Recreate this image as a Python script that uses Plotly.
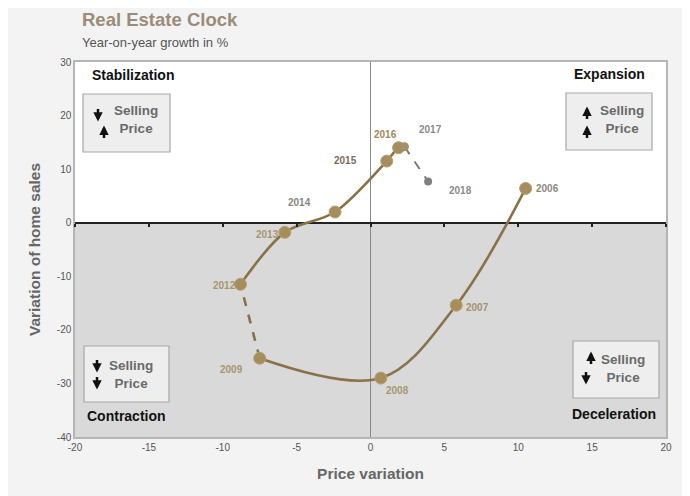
import plotly.graph_objects as go

years = [2006, 2007, 2008, 2009, 2012, 2013, 2014, 2015, 2016, 2017, 2018]
price_var = [10.5, 5.8, 0.7, -7.5, -8.8, -5.8, -2.4, 1.1, 1.9, 2.3, 3.9]
sales_var = [6.4, -15.4, -29.0, -25.3, -11.5, -1.8, 2.0, 11.5, 14.0, 14.2, 7.7]

x_ticks = [-20, -15, -10, -5, 0, 5, 10, 15, 20]
y_ticks = [-40, -30, -20, -10, 0, 10, 20, 30]

GOLD = "#a68d5c"
LINE = "#8a7148"
FONT = "Liberation Sans, Arial, sans-serif"

W, H = 690, 496
OFF = 8  # page body margin
L, R, T, B = 75, 666, 62, 437  # plot area in screenshot pixels


def px(x):
    return (x - L) / (R - L)


def py(y):
    return (B - y) / (B - T)


def idx(y):
    return years.index(y)


def seg(a, b):
    i, j = idx(a), idx(b)
    return price_var[i:j + 1], sales_var[i:j + 1]


def ann(x, y, text, font, xanchor="center", yanchor="middle", **kw):
    return dict(x=px(x), y=py(y), xref="paper", yref="paper", text=text, showarrow=False,
                xanchor=xanchor, yanchor=yanchor, font=font, **kw)


def arrow(x, y, up, length=13):
    hy = y - length / 2 if up else y + length / 2
    return dict(x=px(x), y=py(hy), xref="paper", yref="paper", text="", showarrow=True,
                ax=0, ay=(length if up else -length), axref="pixel", ayref="pixel", borderpad=0,
                arrowhead=2, arrowsize=0.75, arrowwidth=2.5, arrowcolor="#111", standoff=0)


fig = go.Figure()

sx, sy = seg(2006, 2009)
fig.add_trace(go.Scatter(x=sx, y=sy, mode="lines", line=dict(color=LINE, width=2.6, shape="spline", smoothing=1.0),
                         hoverinfo="skip", showlegend=False))
sx, sy = seg(2009, 2012)
fig.add_trace(go.Scatter(x=sx, y=sy, mode="lines", line=dict(color=LINE, width=2.6, dash="dash"),
                         hoverinfo="skip", showlegend=False))
sx, sy = seg(2012, 2017)
fig.add_trace(go.Scatter(x=sx, y=sy, mode="lines", line=dict(color=LINE, width=2.6, shape="spline", smoothing=0.9),
                         hoverinfo="skip", showlegend=False))
sx, sy = seg(2017, 2018)
fig.add_trace(go.Scatter(x=sx, y=sy, mode="lines", line=dict(color="#7a7a7a", width=2, dash="dash"),
                         hoverinfo="skip", showlegend=False))

gold_idx = [i for i, yv in enumerate(years) if yv <= 2016]
fig.add_trace(go.Scatter(x=[price_var[i] for i in gold_idx], y=[sales_var[i] for i in gold_idx], mode="markers",
                         marker=dict(color=GOLD, size=12, line=dict(color="#b79f70", width=1)),
                         showlegend=False))
fig.add_trace(go.Scatter(x=[price_var[idx(2017)]], y=[sales_var[idx(2017)]], mode="markers",
                         marker=dict(color="#a38f6a", size=9), showlegend=False))
fig.add_trace(go.Scatter(x=[price_var[idx(2018)]], y=[sales_var[idx(2018)]], mode="markers",
                         marker=dict(color="#808080", size=8), showlegend=False))

label_style = {
    2006: (22, 0, "#8f877b"),
    2007: (21, -2, "#a49270"),
    2008: (17, -12, "#a89670"),
    2009: (-28, -11, "#a89670"),
    2012: (-16, -1, "#a89670"),
    2013: (-17, -2, "#a89670"),
    2014: (-36, 10, "#8c8680"),
    2015: (-41, 1, "#7d6c5c"),
    2016: (-13, 13, "#a08858"),
    2017: (26, 17, "#8a8a8a"),
    2018: (32, -9, "#8a8a8a"),
}
annotations = []
for i, yr in enumerate(years):
    dx, dy, col = label_style[yr]
    annotations.append(dict(x=price_var[i], y=sales_var[i], xref="x", yref="y", text=str(yr), showarrow=False,
                            xanchor="center", yanchor="middle",
                            xshift=dx, yshift=dy, font=dict(family=FONT, size=10, color=col, weight="bold")))

qfont = dict(family=FONT, size=14, color="#111", weight="bold")
for text, xp, ypix in [("Stabilization", 133, 75), ("Expansion", 609, 74),
                       ("Contraction", 126, 416), ("Deceleration", 614, 414)]:
    annotations.append(ann(xp, ypix, text, qfont))

shapes = [
    dict(type="rect", xref="paper", yref="y", x0=0, x1=1, y0=-40, y1=0, fillcolor="#d9d9d9",
         line=dict(width=0), layer="below"),
    dict(type="line", xref="x", yref="paper", x0=0, x1=0, y0=0, y1=1, line=dict(color="#8a8a8a", width=1),
         layer="below"),
]

boxes = [
    ((83, 170, 94, 152), [(98, 115, False), (104, 132, True)], (136, 120)),
    ((566, 652, 93, 150), [(587, 113, True), (587, 132, True)], (622, 120)),
    ((84, 169, 346, 402), [(97, 366, False), (97, 383, False)], (131, 374)),
    ((573, 659, 341, 398), [(591, 358, True), (586, 378, False)], (623, 368)),
]
tfont = dict(family=FONT, size=13.5, color="#6a6a6a", weight="bold")
for (x0, x1, y0, y1), arrows, (tx, ty) in boxes:
    shapes.append(dict(type="rect", xref="paper", yref="paper", x0=px(x0), x1=px(x1), y0=py(y1), y1=py(y0),
                       fillcolor="#eeeeee", line=dict(color="#a8a8a8", width=1.2)))
    for ax_, ay_, up in arrows:
        annotations.append(arrow(ax_, ay_, up))
    annotations.append(ann(tx, ty, "Selling<br>Price", tfont, align="center"))

annotations.append(ann(80, 20, "Real Estate Clock", dict(family=FONT, size=18.5, color="#9b8b79", weight="bold"),
                       xanchor="left"))
annotations.append(ann(80, 42, "Year-on-year growth in %", dict(family=FONT, size=13, color="#555555"),
                       xanchor="left"))

fig.update_layout(
    width=W, height=H,
    margin=dict(l=L - OFF, r=W - (R - OFF), t=T - OFF, b=H - (B - OFF)),
    paper_bgcolor="#f3f3f3",
    plot_bgcolor="#ffffff",
    shapes=shapes,
    annotations=annotations,
    showlegend=False,
    xaxis=dict(range=[-20, 20], tickvals=x_ticks, ticktext=[str(v) for v in x_ticks], showgrid=False,
               zeroline=False, showline=True, linecolor="#b5b5b5", linewidth=1.5, mirror=True,
               ticks="", tickfont=dict(family=FONT, size=10, color="#555"),
               title=dict(text="Price variation", font=dict(family=FONT, size=15.5, color="#666", weight="bold"),
                          standoff=16)),
    yaxis=dict(range=[-40, 30], tickvals=y_ticks, ticktext=[str(v) for v in y_ticks], showgrid=False,
               zeroline=True, zerolinecolor="#222", zerolinewidth=1.6, showline=True, linecolor="#b5b5b5",
               linewidth=1.5, mirror=True, ticks="", tickfont=dict(family=FONT, size=10, color="#555"),
               title=dict(text="Variation of home sales",
                          font=dict(family=FONT, size=15.5, color="#666", weight="bold"), standoff=12)),
    xaxis2=dict(overlaying="x", range=[-20, 20], tickvals=x_ticks, showticklabels=False, anchor="free",
                position=40 / 70, side="bottom", ticks="outside", ticklen=3, tickwidth=1.5, tickcolor="#222",
                showline=False, showgrid=False, zeroline=False),
)
fig.add_trace(go.Scatter(x=[None], y=[None], xaxis="x2", showlegend=False, hoverinfo="skip"))

fig.write_html("out.html")
